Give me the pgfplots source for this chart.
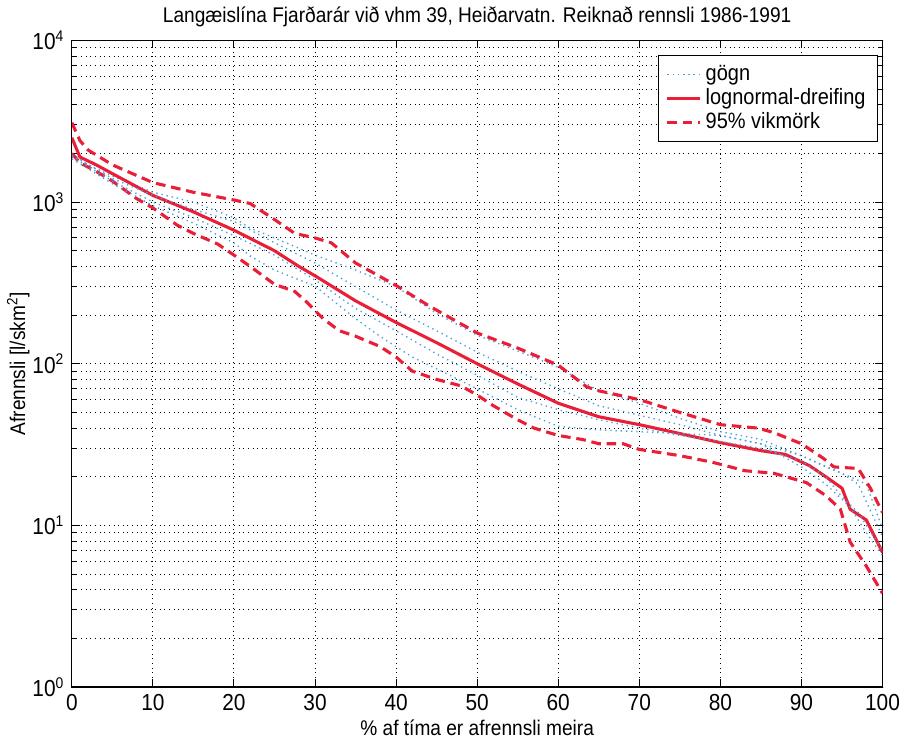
\documentclass[border=0pt]{standalone}
\usepackage{pgfplots}
\pgfplotsset{compat=1.18}
\usepackage{fontspec}
\setmainfont{Liberation Sans}[FakeStretch=0.9]
\definecolor{myred}{RGB}{235,30,55}
\definecolor{myblue}{RGB}{70,160,220}
\begin{document}
\fontsize{11}{12}\selectfont
\begin{tikzpicture}
\begin{axis}[
  scale only axis,
  width=420pt, height=335pt,
  ymode=log,
  xmin=0, xmax=100, ymin=1, ymax=10000,
  xtick={0,10,...,100},
  ytick={1,10,100,1000,10000},
  yticklabels={10\textsuperscript{0},10\textsuperscript{1},10\textsuperscript{2},10\textsuperscript{3},10\textsuperscript{4}},
  /pgf/number format/assume math mode=true,
  tick label style={font=\fontsize{12}{12}\selectfont},
  minor x tick num=0,
  tick align=inside,
  tick pos=both,
  major tick length=4pt,
  minor tick length=2pt,
  grid=both,
  major grid style={black, dotted, line width=0.5pt},
  minor grid style={black, dotted, line width=0.5pt},
  axis line style={black, line width=0.6pt},
  tick style={black, line width=0.5pt},
  title={Langæislína Fjarðarár við vhm 39, Heiðarvatn. Reiknað rennsli 1986-1991},
  title style={yshift=-3pt},
  xlabel={\% af tíma er afrennsli meira},
  ylabel={Afrennsli [l/skm\textsuperscript{2}]},
  xlabel style={yshift=3pt},
  ylabel style={yshift=-6pt},
  legend style={at={(0.994,0.977)}, anchor=north east, draw=black, line width=0.5pt, fill=white, font=\fontsize{11.5}{13}\selectfont, row sep=-1.5pt, inner xsep=4pt, inner ysep=3pt},
  legend cell align=left,
]
\addplot[myblue, dotted, line width=0.7pt] coordinates {
(0,2000)(2,1700)(5,1450)(10,1150)(15,1000)(20,800)(22,690)(25,600)(30,470)(35,380)(40,300)(45,205)(50,150)(55,120)(60,95)(65,68)(70,57)(75,46)(80,38)(85,34)(90,27)(93,23)(96,20)(98,18)(100,9.5)};
\addlegendentry{gögn}
\addplot[myred, solid, line width=1.6pt] coordinates {
(0,2500)(1,1900)(3,1700)(5,1500)(10,1100)(15,870)(20,670)(25,500)(28,400)(30,350)(35,245)(40,180)(45,135)(50,100)(55,75)(60,57)(65,47)(70,42)(75,37)(80,32.5)(85,29)(88,27.5)(91,23.4)(93,20)(95,17)(96,12.6)(98,10.8)(100,6.8)};
\addlegendentry{lognormal-dreifing}
\addplot[myred, line width=1.6pt, dash pattern=on 5pt off 3pt] coordinates {
(0,3100)(1,2400)(2,2100)(5,1700)(10,1320)(15,1150)(20,1030)(22,980)(25,780)(27.5,640)(30,600)(32,560)(35,420)(40,305)(44,229)(50,155)(55,125)(58,108)(60,98)(63.5,72)(65,68)(70,60)(75,50)(80,42)(84.6,40)(86.6,37.5)(90,32)(92.7,26)(94,23)(97,22.5)(98.5,17)(100,12)};
\addlegendentry{95\% vikmörk}
\addplot[myred, line width=1.6pt, dash pattern=on 5pt off 3pt, forget plot] coordinates {
(0,2000)(1,1750)(3,1550)(5,1350)(8,1050)(10,920)(13,720)(15,640)(18,550)(20,470)(22,400)(25,310)(27.5,280)(29,240)(31,190)(33,160)(35,148)(38,128)(40,110)(42,90)(45,80)(48,73)(50,64)(52,55)(55,45)(57,40)(60,36)(63,34)(65,32)(68,32)(70,29.5)(73,28)(75,27)(79,24.6)(83,21.8)(86.6,21)(90.6,18.4)(93,15.3)(94.8,12.6)(96,7.9)(98,5.6)(100,3.8)};
\addplot[myblue, dotted, line width=0.7pt, forget plot] coordinates {
(0,1950)(5,1400)(10,1100)(15,900)(20,760)(25,560)(30,420)(35,300)(40,215)(45,160)(50,118)(55,90)(60,70)(65,55)(70,48)(75,42)(80,36)(85,32)(90,27)(95,21)(97,18)(100,8.5)};
\addplot[myblue, dotted, line width=0.7pt, forget plot] coordinates {
(0,1900)(5,1350)(10,1000)(15,800)(20,620)(25,470)(30,330)(35,220)(40,160)(45,115)(50,85)(55,62)(60,52)(65,45)(70,40)(75,36)(80,33)(85,30)(90,25)(93,20)(95,15)(97,12)(100,7)};
\addplot[myblue, dotted, line width=0.7pt, forget plot] coordinates {
(0,1850)(5,1300)(10,950)(15,740)(20,560)(22,464)(25,380)(30,302)(35,190)(38,148)(42,110)(46,88)(50,70)(55,52)(60,41)(65,39)(70,38)(75,37)(80,36)(85,32)(90,23)(93,18)(96,13)(98,9)(100,6.5)};
\end{axis}
\end{tikzpicture}
\end{document}
